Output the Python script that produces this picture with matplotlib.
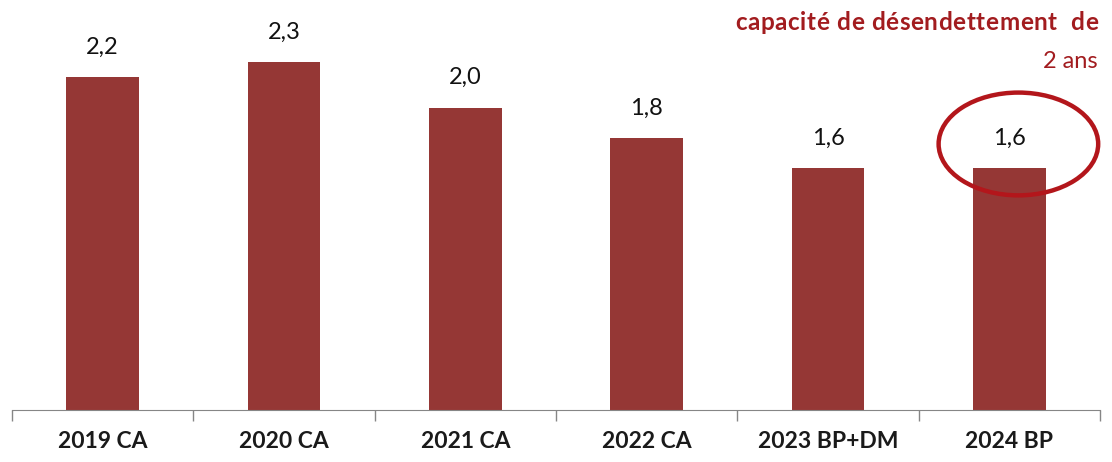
"""Capacité de désendettement, 2019-2024 (bar chart)."""

import matplotlib

matplotlib.use("Agg")
import matplotlib.pyplot as plt
from matplotlib.patches import Ellipse

categories = ["2019 CA", "2020 CA", "2021 CA", "2022 CA", "2023 BP+DM", "2024 BP"]
values = [2.2, 2.3, 2.0, 1.8, 1.6, 1.6]
note_first_line = "capacité de désendettement  de"
note_second_line = "2 ans"

BAR_COLOR = "#953735"
NOTE_COLOR = "#a21c1f"
RING_COLOR = "#b3161b"
W, H = 1112, 462

plt.rcParams["font.family"] = ["Lato", "DejaVu Sans"]

fig = plt.figure(figsize=(W / 100, H / 100), dpi=100)
ax = fig.add_axes([12 / W, 52 / H, 1088 / W, 393 / H])

x = range(len(categories))
bars = ax.bar(x, values, width=0.4, color=BAR_COLOR)

for rect, v in zip(bars, values):
    ax.annotate(
        f"{v:.1f}".replace(".", ","),
        (rect.get_x() + rect.get_width() / 2, rect.get_height()),
        textcoords="offset points",
        xytext=(0, 14),
        ha="center",
        va="bottom",
        fontsize=17,
        color="#111111",
    )

# ring around the last bar's label
ax.add_patch(
    Ellipse(
        (5.05, 1.76),
        width=0.88,
        height=0.68,
        fill=False,
        edgecolor=RING_COLOR,
        linewidth=3.2,
        clip_on=False,
    )
)

ax.set_xlim(-0.5, len(categories) - 0.5)
ax.set_ylim(0, 2.6)
ax.set_yticks([])
for side in ("left", "right", "top"):
    ax.spines[side].set_visible(False)
ax.spines["bottom"].set_color("#868686")

ax.set_xticks(list(x))
ax.set_xticklabels(categories, fontsize=16.5, fontweight="bold", color="#1a1a1a")
ax.tick_params(axis="x", which="major", length=0, pad=15)
ax.set_xticks([i - 0.5 for i in range(len(categories) + 1)], minor=True)
ax.tick_params(axis="x", which="minor", length=8, color="#868686", width=1)


def spaced_text(s, x0, x1, y, **kw):
    """Draw s between pixel columns x0 and x1, spreading the letters evenly."""
    renderer = fig.canvas.get_renderer()
    probe = fig.text(0, 0, "", **kw)

    def width(t):
        # trailing/leading spaces are measured through a guard glyph
        probe.set_text("|" + t + "|")
        w = probe.get_window_extent(renderer).width
        probe.set_text("||")
        return w - probe.get_window_extent(renderer).width

    natural = width(s)
    track = (x1 - x0 - natural) / (len(s) - 1)
    for i, ch in enumerate(s):
        if ch == " ":
            continue
        px = x0 + width(s[:i]) + i * track
        fig.text(px / W, y, ch, ha="left", va="center", **kw)
    probe.remove()


spaced_text(note_first_line, 735, 1098, 1 - 22 / H,
            fontsize=17.5, fontweight="bold", color=NOTE_COLOR)
fig.text(1098 / W, 1 - 61 / H, note_second_line, ha="right", va="center",
         fontsize=17, color=NOTE_COLOR)

fig.savefig("out.png", dpi=100)
